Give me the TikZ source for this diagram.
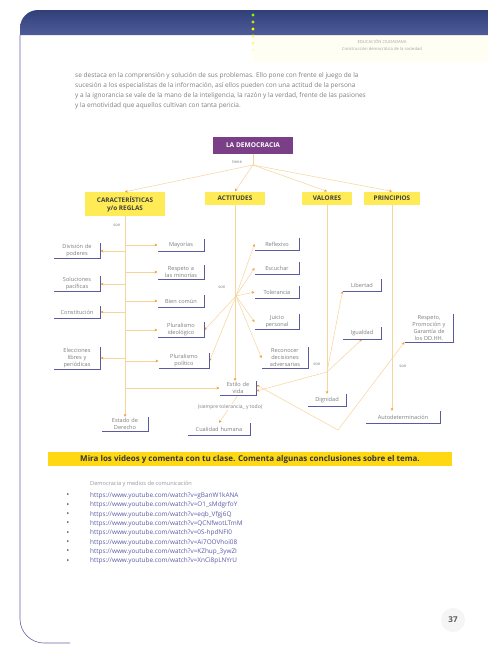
\documentclass[tikz,border=0pt]{standalone}
\usepackage{fontspec}
\setmainfont{Open Sans}
\usetikzlibrary{
  arrows.meta,  % Stealth 箭头
  calc,         % 坐标计算
  positioning   % 节点相对定位
}
\definecolor{bandblue}{HTML}{3A4A8E}
\definecolor{framepurple}{HTML}{6C62A8}
\definecolor{mapyellow}{HTML}{FFEB55}
\definecolor{mappurple}{HTML}{7B3F88}
\definecolor{linkorange}{HTML}{F7D49A}
\definecolor{tiporange}{HTML}{EE9A2E}
\definecolor{edgeblue}{HTML}{5A5AA0}
\definecolor{bodygray}{HTML}{7E7E7E}
\definecolor{urlblue}{HTML}{5A5CA4}
\definecolor{banneryellow}{HTML}{FFD814}
\tikzset{
  concept box/.style={
    fill=white,
    inner sep=1.3pt,
    align=center,
    text=bodygray,
    minimum height=12pt,
    text width=#1,
    font=\fontsize{5.6}{7}\selectfont
  },
  concept box/.default=44pt,
  category box/.style={
    fill=mapyellow,
    inner sep=1.5pt,
    align=center,
    text=black!75,
    minimum height=13pt,
    minimum width=#1,
    font=\bfseries\fontsize{6.4}{8}\selectfont
  },
  box edge/.style={
    draw=edgeblue,
    line width=0.8pt
  },
  link/.style={
    draw=linkorange,
    line width=0.5pt,
    -{Stealth[length=2.8pt, width=2.6pt, color=tiporange]}
  },
  link line/.style={
    draw=linkorange,
    line width=0.5pt
  },
  link label/.style={
    text=bodygray,
    inner sep=0.5pt,
    font=\fontsize{4.2}{5}\selectfont
  },
  body line/.style={
    anchor=west,
    inner sep=0pt,
    text=bodygray,
    font=\fontsize{6.5}{7}\selectfont
  },
  url line/.style={
    anchor=west,
    inner sep=0pt,
    text=urlblue,
    font=\fontsize{6.4}{7}\selectfont
  }
}

\begin{document}
\begin{tikzpicture}[x=1pt, y=-1pt, >=Stealth]
  \useasboundingbox (0,0) rectangle (488,646);
  \fill[white] (0,0) rectangle (488,646);

  % 1. 页眉与页框
  \fill[yellow!5] (253,35) rectangle (488,62);
  \shade[top color=bandblue!85!black, bottom color=bandblue!90!white]
    (20,35) [rounded corners=18pt] -- (20,10) [sharp corners] -- (488,10) -- (488,35) -- cycle;
  \draw[framepurple, line width=0.6pt]
    (20,35) [rounded corners=24pt] -- (20,643) [sharp corners] -- (70,643);
  \foreach \y/\c in {15/green!50!yellow, 22/yellow!80!green, 29/yellow, 36/yellow!70, 43/yellow!45, 50/yellow!25}
    \fill[\c] (253,\y) circle (1.6);
  \node[text=bodygray!70, font=\fontsize{4.2}{5}\selectfont] (headA) at (382,42) {EDUCACIÓN CIUDADANA};
  \node[text=bodygray!70, font=\fontsize{4.2}{5}\selectfont] (headB) at (382,49) {Construcción democrática de la sociedad};

  % 2. 正文段落
  \node[body line] (par1) at (75,76) {se destaca en la comprensión y solución de sus problemas. Ello pone con frente el juego de la};
  \node[body line] (par2) at (75,86) {sucesión a los especialistas de la información, así ellos pueden con una actitud de la persona};
  \node[body line] (par3) at (75,96) {y a la ignorancia se vale de la mano de la inteligencia, la razón y la verdad, frente de las pasiones};
  \node[body line] (par4) at (75,106) {y la emotividad que aquellos cultivan con tanta pericia.};

  % 3. 概念图：中心与四个分类
  \node[fill=mappurple, text=white, minimum width=80pt, minimum height=17pt, inner sep=1pt,
        font=\bfseries\fontsize{6.6}{8}\selectfont] (democracia) at (253,145) {LA DEMOCRACIA};
  \node[link label] (tiene) at (237,162) {tiene};
  \coordinate (hub) at (253,165);
  \node[category box=80pt, minimum height=24pt] (caract) at (125,204) {CARACTERÍSTICAS\\y/o REGLAS};
  \node[category box=60pt] (actitudes) at (235,198) {ACTITUDES};
  \node[category box=50pt] (valores) at (327,198) {VALORES};
  \node[category box=56pt] (principios) at (392,198) {PRINCIPIOS};
  \draw[link line] (democracia) -- (hub);
  \foreach \n in {caract, actitudes, valores, principios}
    \draw[link] (hub) -- (\n.north);

  % 4. 特征与规则
  \node[link label] (son1) at (117,225) {son};
  \node[concept box] (division) at (77,251) {División de\\poderes};
  \node[concept box] (soluciones) at (77,284) {Soluciones\\pacíficas};
  \node[concept box] (constitucion) at (77,312) {Constitución};
  \node[concept box] (elecciones) at (77,358) {Elecciones\\libres y\\periódicas};
  \node[concept box] (mayorias) at (181,245) {Mayorías};
  \node[concept box] (minorias) at (181,272) {Respeto a\\las minorías};
  \node[concept box] (bien) at (181,301) {Bien común};
  \node[concept box] (ideologico) at (181,330) {Pluralismo\\ideológico};
  \node[concept box=48pt] (politico) at (184,361) {Pluralismo\\político};
  \node[concept box=34pt] (estilo) at (238,388) {Estilo de\\vida};
  \node[concept box=44pt] (estado) at (125,424) {Estado de\\Derecho};
  \node[concept box=60pt] (cualidad) at (219,429) {Cualidad humana};
  \draw[link] (caract.south) -- (estado.north);
  \foreach \n in {division, soluciones, constitucion, elecciones}
    \draw[link] (caract.south |- \n.east) -- (\n.east);
  \foreach \n in {mayorias, minorias, bien, ideologico, politico, estilo}
    \draw[link] (caract.south |- \n.west) -- (\n.west);
  \draw[link] (estilo.south) -- (cualidad.north)
    node[pos=0.42, fill=white, link label, font=\fontsize{5}{6}\selectfont] (nota) {(siempre tolerancia\_ y todo)};

  % 5. 态度
  \node[link label] (son2) at (222,287) {son};
  \coordinate (acthub) at (236,296);
  \node[concept box=42pt] (reflexivo) at (277,244) {Reflexivo};
  \node[concept box=42pt] (escuchar) at (277,268) {Escuchar};
  \node[concept box=42pt] (tolerancia) at (277,292) {Tolerancia};
  \node[concept box=42pt] (juicio) at (277,322) {Juicio\\personal};
  \node[concept box=44pt] (reconocer) at (285,358) {Reconocer\\decisiones\\adversarias};
  \draw[link] (actitudes.south) -- (actitudes.south |- estilo.north);
  \foreach \n in {reflexivo, escuchar, tolerancia, juicio, reconocer}
    \draw[link] (acthub) -- (\n.west);
  \draw[link] (acthub) -- (ideologico.east);
  \draw[link] (acthub) -- (politico.east);

  % 6. 价值
  \node[link label] (son3) at (317,364) {son};
  \coordinate (valhub) at (327,372);
  \node[concept box=36pt] (libertad) at (362,285) {Libertad};
  \node[concept box=36pt] (igualdad) at (362,333) {Igualdad};
  \node[concept box=36pt] (dignidad) at (327,400) {Dignidad};
  \draw[link] (valores.south) -- (dignidad.north);
  \draw[link] (valhub) -- (libertad.south west);
  \draw[link] (valhub) -- (igualdad.south);
  \draw[link] (valhub) -- ([yshift=-3pt]estilo.east);

  % 7. 原则
  \node[link label] (son4) at (403,366) {son};
  \coordinate (vbend) at (338,430);
  \node[concept box=46pt] (respeto) at (429,328) {Respeto,\\Promoción y\\Garantía de\\los DD.HH.};
  \node[concept box=72pt] (autodet) at (403,417) {Autodeterminación};
  \draw[link] (principios.south) -- (principios.south |- autodet.north);
  \draw[link] (vbend) -- (respeto.south west);
  \draw[link] (vbend) -- ([yshift=3pt]estilo.east);

  % 方框右下阴影线
  \foreach \n in {division, soluciones, constitucion, elecciones, mayorias, minorias, bien,
                  ideologico, politico, estilo, estado, cualidad, reflexivo, escuchar,
                  tolerancia, juicio, reconocer, libertad, igualdad, dignidad, respeto, autodet}
    \draw[box edge] (\n.north east) -- (\n.south east) -- (\n.south west);

  % 8. 黄色提示条与链接列表
  \fill[banneryellow] (48,452) rectangle (452,466);
  \node[text=black!80, font=\bfseries\fontsize{8}{9}\selectfont] (banner) at (250,459)
    {Mira los videos y comenta con tu clase. Comenta algunas conclusiones sobre el tema.};
  \node[body line, text=bodygray!80, font=\fontsize{5.6}{6}\selectfont] (listtitle) at (90,484) {Democracia y medios de comunicación};
  \foreach \i/\u in {0/gBanW1kANA, 1/O1\_sMdgrfoY, 2/eqb\_Vfgj6Q, 3/QCNfwotLTmM,
                     4/0S-hpdNFI0, 5/Ai7OOVhoi08, 6/KZhup\_3ywZI, 7/XnCi8pLNYrU} {
    \node[text=bodygray!80!black, font=\fontsize{8}{8}\selectfont] (dot\i) at (68,{496+9.3*\i}) {\textbullet};
    \node[url line] (url\i) at (90,{496+9.3*\i}) {https://www.youtube.com/watch?v=\u};
  }

  % 9. 页码
  \fill[bodygray!8] (453,620) circle (12);
  \node[text=black!65, font=\bfseries\fontsize{8}{9}\selectfont] (pagenum) at (453,620) {37};
\end{tikzpicture}
\end{document}
